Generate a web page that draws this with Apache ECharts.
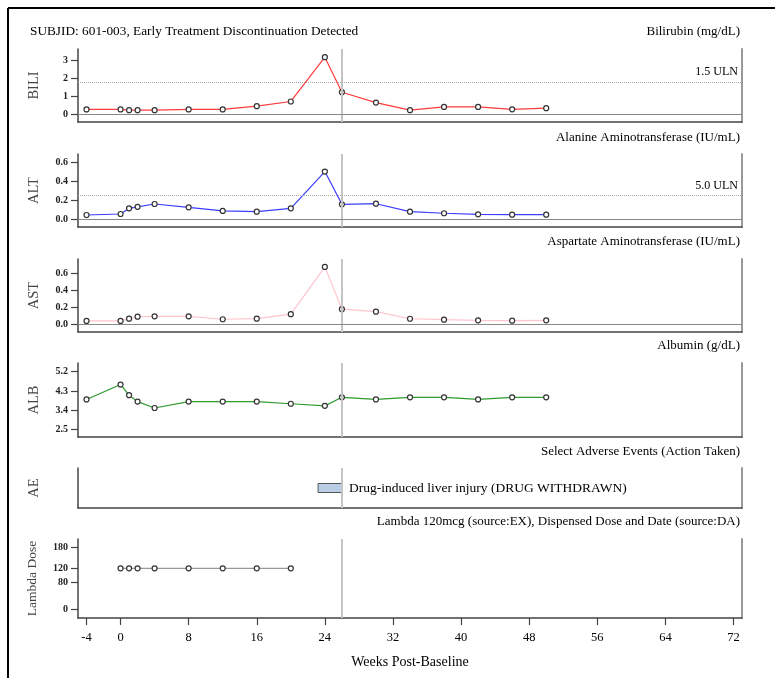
<!DOCTYPE html>
<html>
<head>
<meta charset="utf-8">
<script src="https://cdn.jsdelivr.net/npm/echarts@6/dist/echarts.min.js"></script>
<style>
html,body{margin:0;padding:0;background:#fff;}
#c{width:775px;height:678px;}
</style>
</head>
<body>
<div id="c"></div>
<script>
// ---- data ----
const weeks = [-4, 0, 1, 2, 4, 8, 12, 16, 20, 24, 26, 30, 34, 38, 42, 46, 50];
const bili = [0.28, 0.28, 0.24, 0.24, 0.24, 0.28, 0.28, 0.46, 0.72, 3.16, 1.23, 0.66, 0.24, 0.42, 0.42, 0.29, 0.35];
const alt = [0.045, 0.055, 0.115, 0.13, 0.16, 0.125, 0.087, 0.08, 0.115, 0.50, 0.157, 0.163, 0.08, 0.063, 0.052, 0.048, 0.048];
const ast = [0.04, 0.04, 0.067, 0.09, 0.095, 0.095, 0.06, 0.067, 0.12, 0.68, 0.18, 0.15, 0.066, 0.055, 0.047, 0.043, 0.047];
const alb = [3.9, 4.6, 4.1, 3.8, 3.5, 3.8, 3.8, 3.8, 3.7, 3.6, 4.0, 3.9, 4.0, 4.0, 3.9, 4.0, 4.0];
const doseWeeks = [0, 1, 2, 4, 8, 12, 16, 20];
const doseValues = [120, 120, 120, 120, 120, 120, 120, 120];
const aeStart = [23.2];
const aeEnd = [26];
const aeLabels = ['Drug-induced liver injury (DRUG WITHDRAWN)'];
const discontinuationWeek = 26;
const biliULN = 1.8, altULN = 0.25;
const xTicks = [-4, 0, 8, 16, 24, 32, 40, 48, 56, 64, 72];
const biliTicks = [0, 1, 2, 3];
const altTicks = [0, 0.2, 0.4, 0.6];
const astTicks = [0, 0.2, 0.4, 0.6];
const albTicks = [2.5, 3.4, 4.3, 5.2];
const doseTicks = [0, 80, 120, 180];
const panelTitles = ['Bilirubin (mg/dL)', 'Alanine Aminotransferase (IU/mL)', 'Aspartate Aminotransferase (IU/mL)', 'Albumin (g/dL)', 'Select Adverse Events (Action Taken)', 'Lambda 120mcg (source:EX), Dispensed Dose and Date (source:DA)'];
const axisNames = ['BILI', 'ALT', 'AST', 'ALB', 'AE', 'Lambda Dose'];
const mainTitle = 'SUBJID: 601-003, Early Treatment Discontinuation Detected';
const xName = 'Weeks Post-Baseline';

// ---- layout ----
const FONT = '"Liberation Serif", "DejaVu Serif", serif';
const gridTops = [49, 154, 259, 363, 468, 539];
const gridHeights = [73, 73, 73, 74, 40, 79];
const titleCenters = [33, 139, 243, 347, 453, 523];
const yRanges = [[-0.41, 3.61], [-0.081, 0.684], [-0.091, 0.774], [2.14, 5.61], [-1, 1], [-24, 205]];
const yTicks = [biliTicks, altTicks, astTicks, albTicks, null, doseTicks];
const nameGaps = [36, 36, 36, 36, 36, 39];
const nameSizes = [14.5, 14.5, 14.5, 14.5, 14.5, 13.5];
const fmt = [v => String(v), v => v.toFixed(1), v => v.toFixed(1), v => v.toFixed(1), v => '', v => String(v)];

const grids = [], xAxes = [], yAxes = [], titles = [];
for (let i = 0; i < 6; i++) {
  grids.push({left: 78, right: 33, top: gridTops[i], height: gridHeights[i]});
  const last = i === 5;
  xAxes.push({
    type: 'value', gridIndex: i, min: -5, max: 73,
    axisLine: {show: true, onZero: false, lineStyle: {color: '#444', width: 1.5}},
    axisTick: last ? {show: true, length: 7, customValues: xTicks, lineStyle: {color: '#444', width: 1.2}} : {show: false},
    axisLabel: last ? {show: true, customValues: xTicks, margin: 13, fontFamily: FONT, fontSize: 12.5, color: '#000'} : {show: false},
    splitLine: {show: false},
    name: last ? xName : '', nameLocation: 'middle', nameGap: 37,
    nameTextStyle: {fontFamily: FONT, fontSize: 14, color: '#000'}
  });
  const t = yTicks[i];
  yAxes.push({
    type: 'value', gridIndex: i, min: yRanges[i][0], max: yRanges[i][1],
    axisLine: {show: true, onZero: false, lineStyle: {color: '#444', width: 1.5}},
    axisTick: t ? {show: true, length: 7, customValues: t, lineStyle: {color: '#444', width: 1.2}} : {show: false},
    axisLabel: t ? {show: true, customValues: t, margin: 10, formatter: fmt[i], fontFamily: FONT, fontSize: 10, fontWeight: 'bold', color: '#222'} : {show: false},
    splitLine: {show: false},
    name: axisNames[i], nameLocation: 'middle', nameGap: nameGaps[i], nameRotate: 90,
    nameTextStyle: {fontFamily: FONT, fontSize: nameSizes[i], color: '#444'}
  });
  // right border axis
  yAxes.push({
    type: 'value', gridIndex: i, position: 'right', min: yRanges[i][0], max: yRanges[i][1],
    axisLine: {show: true, onZero: false, lineStyle: {color: '#999', width: 2}},
    axisTick: {show: false}, axisLabel: {show: false}, splitLine: {show: false}
  });
  titles.push({text: panelTitles[i], right: 35, top: titleCenters[i] - 8, padding: 0,
    textStyle: {fontFamily: FONT, fontSize: 13, fontWeight: 'normal', color: '#000'}});
}
titles.push({text: mainTitle, left: 30, top: titleCenters[0] - 8, padding: 0,
  textStyle: {fontFamily: FONT, fontSize: 13.3, fontWeight: 'normal', color: '#000'}});

function vLine() {
  return {xAxis: discontinuationWeek, lineStyle: {color: '#c4c4c4', width: 2, type: 'solid'}, label: {show: false}};
}
function zeroLine() {
  return {yAxis: 0, lineStyle: {color: '#888', width: 1, type: 'solid'}, label: {show: false}};
}
function ulnLine(v, txt) {
  return {yAxis: v, lineStyle: {color: '#aaa', width: 1, type: 'dotted'},
    label: {show: true, position: 'insideEndTop', formatter: txt, fontFamily: FONT, fontSize: 12, color: '#000', distance: 4}};
}
const markerStyle = {color: '#fff', borderColor: '#333', borderWidth: 1.2};

function labSeries(i, vals, color, marks) {
  return {
    type: 'line', xAxisIndex: i, yAxisIndex: i * 2,
    data: weeks.map((w, k) => [w, vals[k]]),
    symbol: 'circle', symbolSize: 5, showSymbol: true,
    lineStyle: {color: color, width: 1.2}, itemStyle: markerStyle,
    markLine: {silent: true, symbol: 'none', data: marks},
    z: 3
  };
}

const series = [
  labSeries(0, bili, '#ff3b3b', [vLine(), zeroLine(), ulnLine(biliULN, '1.5 ULN')]),
  labSeries(1, alt, '#3d3dff', [vLine(), zeroLine(), ulnLine(altULN, '5.0 ULN')]),
  labSeries(2, ast, '#ffc4cc', [vLine(), zeroLine()]),
  labSeries(3, alb, '#2e9a2e', [vLine()]),
  {
    type: 'custom', xAxisIndex: 4, yAxisIndex: 8,
    data: aeStart.map((s, k) => [s, aeEnd[k], 0]),
    encode: {x: [0, 1], y: 2},
    renderItem: function (params, api) {
      const s = api.coord([api.value(0), 0.225]);
      const e = api.coord([api.value(1), -0.225]);
      return {type: 'group', children: [
        {type: 'rect', shape: {x: s[0], y: s[1], width: e[0] - s[0], height: e[1] - s[1]},
          style: {fill: '#b9cde5', stroke: '#555', lineWidth: 1}},
        {type: 'text', style: {text: aeLabels[params.dataIndex], x: e[0] + 7, y: (s[1] + e[1]) / 2,
          verticalAlign: 'middle', align: 'left', font: '13.5px ' + FONT, fill: '#000'}}
      ]};
    },
    markLine: {silent: true, symbol: 'none', data: [vLine()]},
    z: 3
  },
  {
    type: 'line', xAxisIndex: 5, yAxisIndex: 10,
    data: doseWeeks.map((w, k) => [w, doseValues[k]]),
    symbol: 'circle', symbolSize: 5,
    lineStyle: {color: '#999', width: 1.2}, itemStyle: markerStyle,
    markLine: {silent: true, symbol: 'none', data: [vLine()]},
    z: 3
  }
];

const chart = echarts.init(document.getElementById('c'));
chart.setOption({
  animation: false,
  backgroundColor: '#fff',
  title: titles,
  grid: grids,
  xAxis: xAxes,
  yAxis: yAxes,
  series: series,
  graphic: [
    {type: 'line', shape: {x1: 8, y1: 8, x2: 8, y2: 678}, style: {stroke: '#000', lineWidth: 2}},
    {type: 'line', shape: {x1: 8, y1: 8, x2: 775, y2: 8}, style: {stroke: '#000', lineWidth: 2}}
  ]
});
</script>
</body>
</html>
